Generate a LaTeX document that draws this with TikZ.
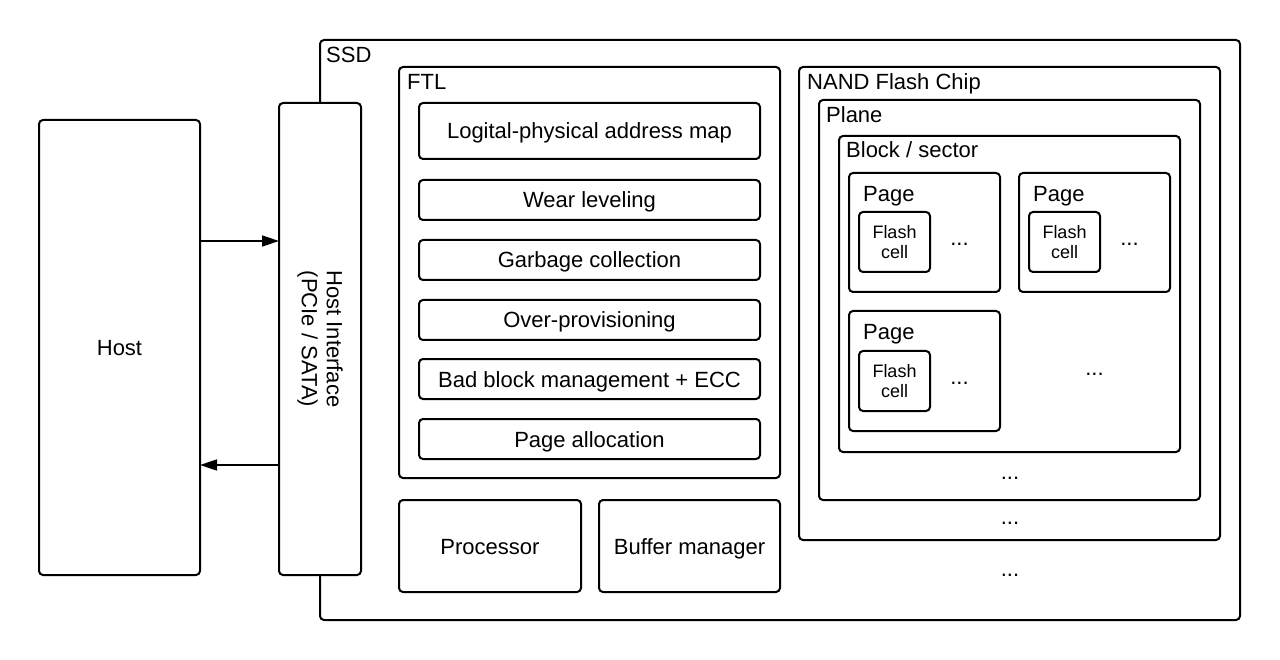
\documentclass[tikz,border=0pt]{standalone}
\usepackage{fontspec}
\setmainfont{Liberation Sans}
\usetikzlibrary{arrows.meta}
\begin{document}
\begin{tikzpicture}[x=1pt,y=-1pt,
  box/.style={draw=black, line width=2pt, rounded corners=4pt, inner sep=0pt, outer sep=0pt, fill=white},
  txt/.style={font=\fontsize{22pt}{25pt}\selectfont, inner sep=0pt},
  ctxt/.style={txt, text height=16pt, text depth=0pt},
  small/.style={font=\fontsize{18pt}{20pt}\selectfont, inner sep=0pt, align=center},
  arr/.style={line width=1.7pt, -{Triangle[length=17pt,width=11pt]}},
  dotsl/.style={font=\fontsize{22pt}{25pt}\selectfont, inner sep=0pt, anchor=base}]
\useasboundingbox (0,0) rectangle (1280,660);
\fill[white] (0,0) rectangle (1280,660);
% SSD
\node[box, minimum width=920pt, minimum height=580pt] (ssd) at (780,330) {};
\node[txt, anchor=base west] (ssdl) at (326,63) {SSD};
% Host & interface
\node[box, ctxt, minimum width=161pt, minimum height=455pt] (host) at (119.5,347.5) {Host};
\node[box, minimum width=82pt, minimum height=472pt] (hi) at (320,339) {};
\node[txt, align=center, rotate=-90] (hil) at (hi.center) {Host Interface\\(PCIe / SATA)};
% FTL
\node[box, minimum width=381pt, minimum height=411pt] (ftl) at (589.5,272.5) {};
\node[txt, anchor=base west] (ftll) at (407,90) {FTL};
\node[box, ctxt, minimum width=341pt, minimum height=56pt] (map) at (589.5,131) {Logital-physical address map};
\node[box, ctxt, minimum width=341pt, minimum height=40pt] (wear) at (589.5,200) {Wear leveling};
\node[box, ctxt, minimum width=341pt, minimum height=40pt] (gc) at (589.5,260) {Garbage collection};
\node[box, ctxt, minimum width=341pt, minimum height=40pt] (op) at (589.5,320) {Over-provisioning};
\node[box, ctxt, minimum width=341pt, minimum height=40pt] (bb) at (589.5,379) {Bad block management + ECC};
\node[box, ctxt, minimum width=341pt, minimum height=40pt] (pa) at (589.5,439) {Page allocation};
% Processor / buffer
\node[box, ctxt, minimum width=182pt, minimum height=92pt] (proc) at (490,546) {Processor};
\node[box, ctxt, minimum width=181pt, minimum height=92pt] (buf) at (689.5,546) {Buffer manager};
% NAND
\node[box, minimum width=421pt, minimum height=473pt] (nand) at (1009.5,303.5) {};
\node[txt, anchor=base west] (nandl) at (807,90) {NAND Flash Chip};
\node[box, minimum width=381pt, minimum height=400pt] (plane) at (1009.5,300) {};
\node[txt, anchor=base west] (planel) at (826,123) {Plane};
\node[box, minimum width=341pt, minimum height=316pt] (block) at (1009.5,294) {};
\node[txt, anchor=base west] (blockl) at (846,158) {Block / sector};
\node[box, minimum width=151pt, minimum height=119pt] (pg1) at (924.5,232.5) {};
\node[txt, anchor=base west] (pg1l) at (863,202) {Page};
\node[box, minimum width=151pt, minimum height=119pt] (pg2) at (1094.5,232.5) {};
\node[txt, anchor=base west] (pg2l) at (1033,202) {Page};
\node[box, minimum width=151pt, minimum height=120pt] (pg3) at (924.5,371) {};
\node[txt, anchor=base west] (pg3l) at (863,340) {Page};
\node[box, small, minimum width=71pt, minimum height=60pt] (c1) at (894.5,242) {Flash\\cell};
\node[box, small, minimum width=71pt, minimum height=60pt] (c2) at (1064.5,242) {Flash\\cell};
\node[box, small, minimum width=71pt, minimum height=60pt] (c3) at (894.5,381) {Flash\\cell};
% dots
\node[dotsl] (d1) at (959.5,245.5) {...};
\node[dotsl] (d2) at (1129.5,245.5) {...};
\node[dotsl] (d3) at (959.5,384.5) {...};
\node[dotsl] (d4) at (1094.5,375.5) {...};
\node[dotsl] (d5) at (1010,479.5) {...};
\node[dotsl] (d6) at (1010,524.5) {...};
\node[dotsl] (d7) at (1010,576.5) {...};
% arrows
\coordinate (ya) at (0,241);
\coordinate (yb) at (0,465);
\draw[arr] (host.east |- ya) -- (hi.west |- ya);
\draw[arr] (hi.west |- yb) -- (host.east |- yb);
\end{tikzpicture}
\end{document}
